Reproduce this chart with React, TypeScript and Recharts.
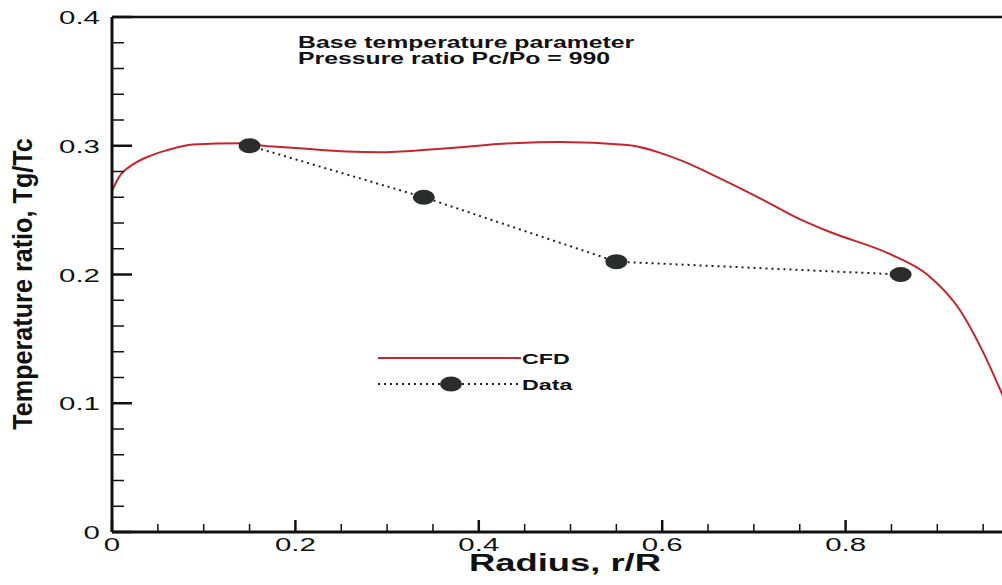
import React from 'react';
import { LineChart, Line, XAxis, YAxis, ReferenceLine } from 'recharts';

// CFD curve (radius r/R, temperature ratio Tg/Tc)
const cfdR = [0, 0.008, 0.023, 0.041, 0.06, 0.088, 0.14, 0.165, 0.205, 0.256, 0.292, 0.314, 0.365, 0.437, 0.489, 0.562, 0.619, 0.663, 0.71, 0.75, 0.783, 0.848, 0.889, 0.925, 0.947, 0.975];
const cfdT = [0.265, 0.276, 0.2855, 0.292, 0.2965, 0.301, 0.302, 0.3, 0.298, 0.2955, 0.295, 0.2955, 0.298, 0.302, 0.303, 0.3005, 0.289, 0.2747, 0.258, 0.243, 0.233, 0.216, 0.2, 0.172, 0.144, 0.1];

// Measured data
const dataR = [0.15, 0.34, 0.55, 0.86];
const dataT = [0.3, 0.26, 0.21, 0.2];

// Ticks
const xTicks = [0, 0.05, 0.1, 0.15, 0.2, 0.25, 0.3, 0.35, 0.4, 0.45, 0.5, 0.55, 0.6, 0.65, 0.7, 0.75, 0.8, 0.85, 0.9, 0.95];
const yTicks = [0, 0.02, 0.04, 0.06, 0.08, 0.1, 0.12, 0.14, 0.16, 0.18, 0.2, 0.22, 0.24, 0.26, 0.28, 0.3, 0.32, 0.34, 0.36, 0.38, 0.4];
const xLabels = ['0', '0.2', '0.4', '0.6', '0.8'];
const yLabels = ['0', '0.1', '0.2', '0.3', '0.4'];

const cfdData = cfdR.map((r, i) => ({ r, t: cfdT[i] }));
const expData = dataR.map((r, i) => ({ r, t: dataT[i] }));

const FONT = '"Liberation Sans", Arial, Helvetica, sans-serif';
const RED = '#c4262d';
const INK = '#111';
const SX = 1.55;

const XTick = (props: any) => {
  const { x, y, payload } = props;
  const v = payload.value as number;
  const k = Math.round(v / 0.2);
  const major = Math.abs(v - k * 0.2) < 1e-6;
  return (
    <g>
      <line x1={x} x2={x} y1={y} y2={y - (major ? 12 : 8)} stroke={INK} strokeWidth={major ? 2.5 : 1.5} />
      {major && (
        <text transform={`translate(${x},${y + 19}) scale(${SX},1)`} textAnchor="middle" fontFamily={FONT} fontSize={19} fill={INK}>
          {xLabels[k]}
        </text>
      )}
    </g>
  );
};

const YTick = (props: any) => {
  const { x, y, payload } = props;
  const v = payload.value as number;
  const k = Math.round(v / 0.1);
  const major = Math.abs(v - k * 0.1) < 1e-6;
  return (
    <g>
      <line x1={x} x2={x + (major ? 20 : 12)} y1={y} y2={y} stroke={INK} strokeWidth={major ? 2.5 : 1.5} />
      {major && (
        <text transform={`translate(${x - 12},${y + 7}) scale(${SX},1)`} textAnchor="end" fontFamily={FONT} fontSize={19} fill={INK}>
          {yLabels[k]}
        </text>
      )}
    </g>
  );
};

const DataDot = (props: any) => {
  const { cx, cy } = props;
  if (cx == null || cy == null) return null;
  return <ellipse cx={cx} cy={cy} rx={11} ry={7.5} fill="#2b2d2d" />;
};

export default function App() {
  return (
    <div style={{ position: 'absolute', left: 0, top: 0, width: 1002, height: 585, overflow: 'hidden', background: '#fff' }}>
      <LineChart width={1045} height={585} margin={{ top: 17, right: 16, left: 12, bottom: 23 }}>
        <XAxis
          type="number"
          dataKey="r"
          domain={[0, 1]}
          ticks={xTicks}
          interval={0}
          height={30}
          tickSize={0}
          tickMargin={0}
          tickLine={false}
          axisLine={{ stroke: INK, strokeWidth: 3 }}
          tick={<XTick />}
          allowDataOverflow
        />
        <YAxis
          type="number"
          dataKey="t"
          domain={[0, 0.4]}
          ticks={yTicks}
          interval={0}
          width={100}
          tickSize={0}
          tickMargin={0}
          tickLine={false}
          axisLine={{ stroke: INK, strokeWidth: 3 }}
          tick={<YTick />}
          allowDataOverflow
        />
        <ReferenceLine y={0.4} stroke={INK} strokeWidth={2.5} />
        <Line
          data={expData}
          dataKey="t"
          type="linear"
          stroke="#222"
          strokeWidth={2}
          strokeDasharray="2 4"
          dot={<DataDot />}
          activeDot={false}
          isAnimationActive={false}
        />
        <Line
          data={cfdData}
          dataKey="t"
          type="monotone"
          stroke={RED}
          strokeWidth={2}
          dot={false}
          activeDot={false}
          isAnimationActive={false}
        />
      </LineChart>
      <svg width={1002} height={585} style={{ position: 'absolute', left: 0, top: 0, pointerEvents: 'none' }}>
        {/* annotation */}
        <text transform={`translate(298,48) scale(${SX},1)`} fontFamily={FONT} fontWeight="bold" fontSize={16} fill={INK}>
          Base temperature parameter
        </text>
        <text transform={`translate(298,64) scale(${SX},1)`} fontFamily={FONT} fontWeight="bold" fontSize={16} fill={INK}>
          Pressure ratio Pc/Po = 990
        </text>
        {/* legend */}
        <line x1={378} x2={521} y1={358} y2={358} stroke={RED} strokeWidth={2} />
        <text transform={`translate(522,364) scale(${SX},1)`} fontFamily={FONT} fontWeight="bold" fontSize={15} fill={INK}>
          CFD
        </text>
        <line x1={378} x2={518} y1={384} y2={384} stroke="#222" strokeWidth={2} strokeDasharray="2 4" />
        <ellipse cx={451} cy={384} rx={11} ry={7.5} fill="#2b2d2d" />
        <text transform={`translate(522,390) scale(${SX},1)`} fontFamily={FONT} fontWeight="bold" fontSize={15} fill={INK}>
          Data
        </text>
        {/* axis titles */}
        <text transform="translate(565,571) scale(1.58,1)" textAnchor="middle" fontFamily={FONT} fontWeight="bold" fontSize={23} fill={INK}>
          Radius, r/R
        </text>
        <text transform="translate(32,284) rotate(-90) scale(0.9,1)" textAnchor="middle" fontFamily={FONT} fontWeight="bold" fontSize={28} fill={INK}>
          Temperature ratio, Tg/Tc
        </text>
      </svg>
    </div>
  );
}
